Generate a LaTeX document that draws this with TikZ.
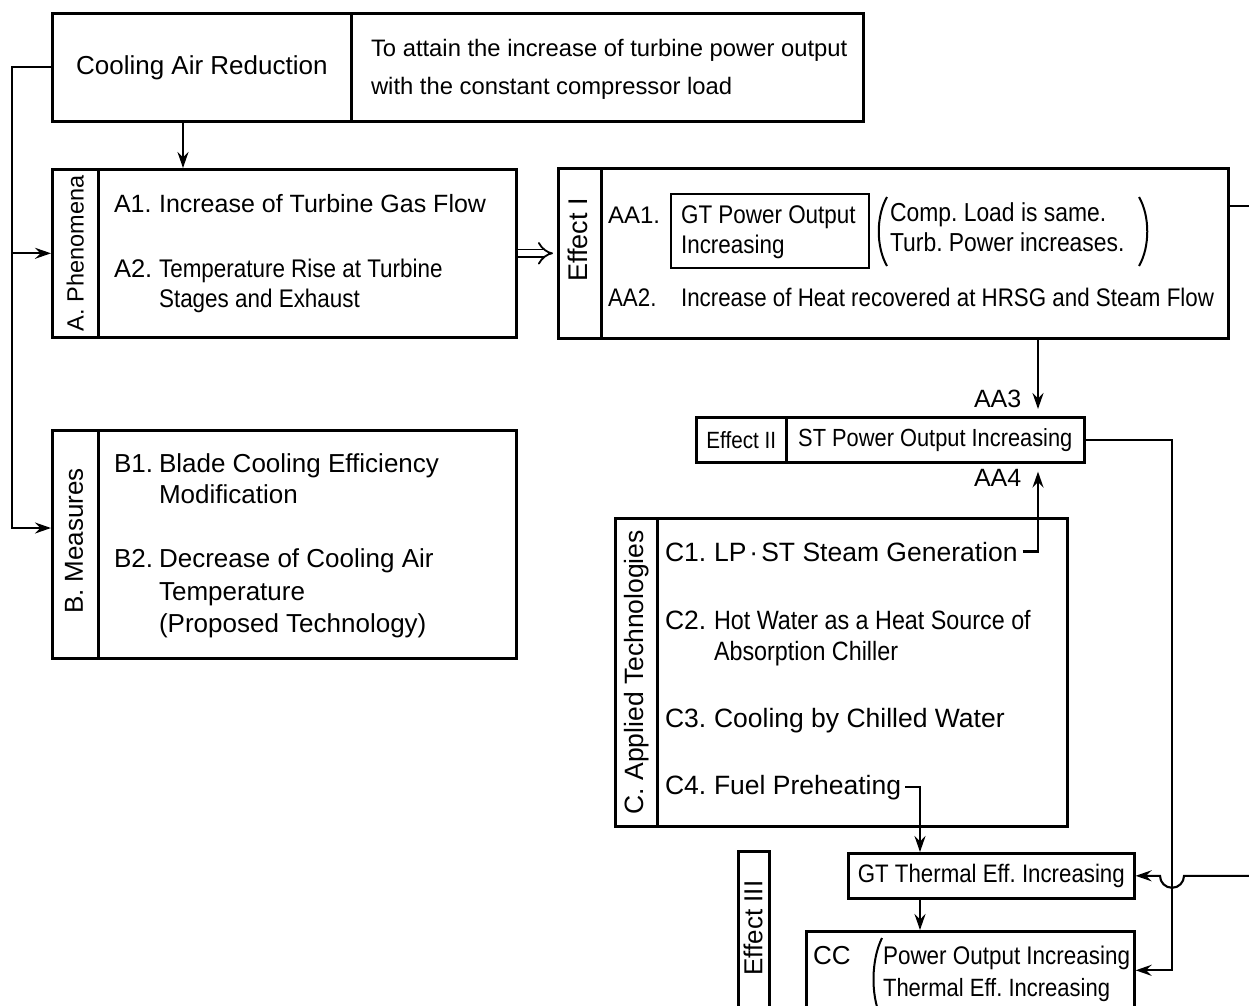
\documentclass[tikz,border=0pt]{standalone}
\usepackage{fontspec}
\setmainfont{Liberation Sans}
\newfontfamily\narrowsf[FakeStretch=0.88]{Liberation Sans}
\newcommand{\fsz}[1]{\fontsize{#1}{#1}\selectfont}
\newcommand{\lbl}[2][45pt]{\makebox[#1][l]{#2}}
\usetikzlibrary{positioning, arrows.meta}
\frenchspacing

\begin{document}
\begin{tikzpicture}[x=1pt, y=-1pt, line width=2.1pt,
    >={Stealth[length=16pt, width=11pt, inset=5.5pt]},
    cell/.style={draw, line width=2.6pt, anchor=north west, inner sep=0pt},
    txt/.style={anchor=base west, inner sep=0pt, font=\fsz{26}},
    ntxt/.style={anchor=base west, inner sep=0pt, font=\narrowsf\fsz{25.5}},
    vtxt/.style={rotate=90, inner sep=0pt, font=\fsz{26}}]
  \useasboundingbox (0,0) rectangle (1249,1005);
  \clip (0,0) rectangle (1249,1005);

  % boxes
  \node[cell, minimum width=299pt, minimum height=108pt, font=\fsz{26}] (cool) at (51,12) {Cooling Air Reduction};
  \node[cell, minimum width=512pt, minimum height=108pt] (aim) at (350,12) {};
  \node[cell, minimum width=46pt, minimum height=168pt] (phentab) at (51,168) {};
  \node[cell, minimum width=418pt, minimum height=168pt] (phenbody) at (97,168) {};
  \node[cell, minimum width=43pt, minimum height=170pt] (efftab) at (557,167) {};
  \node[cell, minimum width=627pt, minimum height=170pt] (effbody) at (600,167) {};
  \node[cell, minimum width=198pt, minimum height=74pt, line width=2.1pt] (gtpo) at (670,193) {};
  \node[cell, minimum width=90pt, minimum height=45pt, font=\narrowsf\fsz{23.5}] (eff2) at (695,416) {Effect II};
  \node[cell, minimum width=298pt, minimum height=45pt, font=\narrowsf\fsz{24.8}] (st) at (785,416) {ST Power Output Increasing};
  \node[cell, minimum width=46pt, minimum height=228pt] (meastab) at (51,429) {};
  \node[cell, minimum width=418pt, minimum height=228pt] (measbody) at (97,429) {};
  \node[cell, minimum width=42pt, minimum height=308pt] (ctab) at (614,517) {};
  \node[cell, minimum width=410pt, minimum height=308pt] (cbody) at (656,517) {};
  \node[cell, minimum width=286pt, minimum height=45pt, font=\narrowsf\fsz{25.3}] (gt) at (847,852) {GT Thermal Eff. Increasing};
  \node[cell, minimum width=31pt, minimum height=160pt] (eff3) at (737,850) {};
  \node[cell, minimum width=328pt, minimum height=78pt] (cc) at (805,930) {};

  % side labels
  \node[vtxt, font=\fsz{23.5}] (phenlbl) at (phentab.center) {A. Phenomena};
  \node[vtxt, font=\fsz{27}] (efflbl) at (578,240) {Effect I};
  \node[vtxt] (measlbl) at (74,541) {B. Measures};
  \node[vtxt, font=\fsz{26.5}] (clbl) at (ctab.center) {C. Applied Technologies};
  \node[vtxt] (eff3lbl) at (753,928) {Effect III};

  % texts
  \node[txt, font=\fsz{23.8}] (aim1) at (370,56) {To attain the increase of turbine power output};
  \node[txt, font=\fsz{23.8}] (aim2) at (370,94) {with the constant compressor load};
  \node[txt, font=\fsz{25}] (a1) at (113,212) {\lbl{A1.}Increase of Turbine Gas Flow};
  \node[ntxt] (a2) at (113,277) {\lbl{\normalfont A2.}Temperature Rise at Turbine};
  \node[ntxt] (a2b) at (158,307) {Stages and Exhaust};
  \node[txt] (b1) at (113,472) {\lbl{B1.}Blade Cooling Efficiency};
  \node[txt] (b1b) at (158,503) {Modification};
  \node[txt] (b2) at (113,567) {\lbl{B2.}Decrease of Cooling Air};
  \node[txt] (b2b) at (158,600) {Temperature};
  \node[txt] (b2c) at (158,632) {(Proposed Technology)};

  \node[txt, font=\fsz{24}] (aa1) at (607,223) {AA1.};
  \node[ntxt] (gtpo1) at (680,223) {GT Power Output};
  \node[ntxt] (gtpo2) at (680,253) {Increasing};
  \node[ntxt, font=\narrowsf\fsz{26}] (why1) at (889,221) {Comp. Load is same.};
  \node[ntxt, font=\narrowsf\fsz{26}] (why2) at (889,251) {Turb. Power increases.};
  \node[ntxt, font=\narrowsf\fsz{25.4}] (aa2) at (607,306) {\lbl[73pt]{AA2.}Increase of Heat recovered at HRSG and Steam Flow};
  \node[txt, font=\fsz{25}] (aa3) at (973,407) {AA3};
  \node[txt, font=\fsz{25}] (aa4) at (973,486) {AA4};

  \node[txt, font=\fsz{26.5}] (c1) at (664,561) {\lbl[49pt]{C1.}LP\hspace{3pt}·\hspace{3pt}ST Steam Generation};
  \node[ntxt, font=\narrowsf\fsz{26.5}] (c2) at (664,629) {\lbl[49pt]{\normalfont C2.}Hot Water as a Heat Source of};
  \node[ntxt, font=\narrowsf\fsz{26.5}] (c2b) at (713,660) {Absorption Chiller};
  \node[txt, font=\fsz{26.5}] (c3) at (664,727) {\lbl[49pt]{C3.}Cooling by Chilled Water};
  \node[txt, font=\fsz{26.5}] (c4) at (664,794) {\lbl[49pt]{C4.}Fuel Preheating};

  \node[txt] (cclbl) at (812,964) {CC};
  \node[ntxt] (cc1) at (882,964) {Power Output Increasing};
  \node[ntxt, font=\narrowsf\fsz{25}] (cc2) at (882,996) {Thermal Eff. Increasing};

  % brackets
  \draw[line width=2pt] (887,197) .. controls (876,216) and (876,247) .. (887,266);
  \draw[line width=2pt] (1139,197) .. controls (1150,216) and (1150,247) .. (1139,266);
  \draw[line width=2pt] (882,938) .. controls (871,960) and (871,995) .. (880,1015);

  % connectors
  \coordinate (busL) at (12,528);
  \coordinate (dnx) at (183,0);
  \coordinate (aa3x) at (1038,0);
  \coordinate (gtx) at (920,0);
  \coordinate (rbus) at (1172,0);
  \coordinate (offR1) at (1255,206);
  \coordinate (offR2) at (1255,0);

  \draw[->] (cool.west) -| (busL) -- (meastab.west |- busL);
  \draw[->] (busL |- phentab.west) -- (phentab.west);
  \draw[->] (cool.south -| dnx) -- (phenbody.north -| dnx);
  \draw[-{Implies[length=11pt, width=22pt]}, double, double distance=6pt, line width=1.8pt, shorten >=4pt] (phenbody.east) -- (efftab.west);
  \draw (effbody.east |- offR1) -- (offR1);
  \draw[->, shorten >=7pt] (effbody.south -| aa3x) -- (st.north -| aa3x);
  \draw[->, shorten <=4pt, shorten >=8pt] (c1.east) -| (st.south -| aa3x);
  \draw[->, shorten <=3pt] (c4.east) -| (gt.north -| gtx);
  \draw[->] (gt.south -| gtx) -- (cc.north -| gtx);
  \draw[->] (st.east) -| (rbus |- cc.east) -- (cc.east);
  \draw[->] (offR2 |- gt.east) -- ([xshift=12pt]rbus |- gt.east) arc[start angle=0, end angle=180, radius=12] -- (gt.east);
\end{tikzpicture}
\end{document}
